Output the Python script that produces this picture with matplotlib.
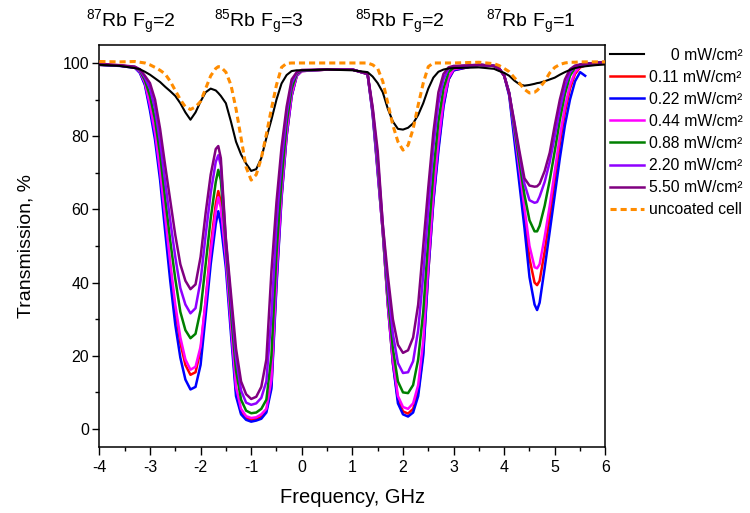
import numpy as np
import matplotlib
matplotlib.use("Agg")
import matplotlib.pyplot as plt
from matplotlib.ticker import MultipleLocator

plt.rcParams['font.family'] = ['Liberation Sans', 'DejaVu Sans']
plt.rcParams['mathtext.fontset'] = 'custom'
plt.rcParams['mathtext.rm'] = 'Liberation Sans'
plt.rcParams['mathtext.it'] = 'Liberation Sans:italic'
plt.rcParams['mathtext.bf'] = 'Liberation Sans:bold'
plt.rcParams['axes.unicode_minus'] = False

# ---------------- data ----------------
freq = [-4.0, -3.6, -3.3, -3.2, -3.1, -3.0, -2.9, -2.8, -2.7, -2.6,
        -2.5, -2.4, -2.3, -2.2, -2.1, -2.0, -1.9, -1.8, -1.7, -1.65,
        -1.6, -1.5, -1.4, -1.3, -1.2, -1.1, -1.0, -0.9, -0.8, -0.7,
        -0.6, -0.5, -0.4, -0.3, -0.2, -0.1, 0.0, 0.5, 1.0, 1.3,
        1.4, 1.5, 1.6, 1.7, 1.8, 1.9, 2.0, 2.1, 2.2, 2.3,
        2.4, 2.5, 2.6, 2.7, 2.8, 2.9, 3.0, 3.5, 3.8, 3.9,
        4.0, 4.1, 4.2, 4.3, 4.4, 4.5, 4.6, 4.65, 4.7, 4.8,
        4.9, 5.0, 5.1, 5.2, 5.3, 5.4, 5.5, 5.6, 5.8, 6.0]

t_0mw = [99.5, 99.2, 98.6, 98.3, 97.6, 96.8, 95.8, 94.8, 93.5, 92.3,
         91.0, 89.0, 86.5, 84.5, 86.5, 89.5, 92.0, 93.0, 92.5, 91.8,
         91.0, 89.0, 84.0, 78.5, 75.0, 72.5, 70.5, 71.0, 74.0, 79.5,
         84.5, 90.0, 94.4, 96.7, 97.8, 98.0, 98.0, 98.2, 98.0, 97.5,
         96.3, 94.5, 92.0, 87.5, 84.0, 82.0, 81.8, 82.3, 83.5, 85.8,
         89.0, 93.0, 96.0, 97.6, 98.2, 98.5, 98.6, 98.8, 98.4, 97.8,
         97.3, 96.5, 95.2, 94.2, 93.8, 94.0, 94.3, 94.5, 94.6, 95.0,
         95.5, 96.0, 96.8, 97.5, 98.1, 98.6, 98.9, 99.1, 99.4, 99.6]

t_011 = [99.5, 99.3, 98.8, 97.5, 94.3, 88.0, 80.5, 70.0, 57.0, 44.0,
         32.5, 23.5, 17.5, 14.8, 15.5, 21.5, 35.0, 50.0, 61.5, 65.0,
         62.0, 47.0, 28.0, 10.5, 4.5, 3.0, 2.5, 2.7, 3.3, 5.0,
         12.0, 40.0, 63.5, 80.0, 91.0, 96.5, 97.8, 98.2, 98.2, 97.0,
         86.5, 70.5, 54.0, 34.0, 18.0, 8.0, 4.8, 4.2, 5.5, 10.0,
         21.0, 43.0, 62.5, 77.0, 88.5, 95.5, 98.0, 99.5, 99.2, 98.5,
         96.5, 91.5, 80.5, 69.5, 58.0, 46.5, 40.0, 39.3, 40.5, 48.5,
         58.0, 68.0, 78.0, 86.5, 93.0, 97.0, 98.8, 99.3, 99.8, 100.3]

t_022 = [99.5, 99.2, 98.7, 97.3, 94.0, 87.0, 79.0, 68.0, 54.0, 40.5,
         28.5, 19.5, 13.5, 10.8, 11.5, 17.5, 31.0, 45.0, 56.0, 59.5,
         56.0, 44.0, 26.0, 9.0, 4.0, 2.5, 2.0, 2.3, 2.8, 4.5,
         11.0, 39.0, 63.0, 80.0, 91.0, 96.5, 97.8, 98.2, 98.2, 97.0,
         86.0, 70.0, 54.0, 34.0, 18.0, 7.0, 4.0, 3.4, 4.5, 9.0,
         20.0, 43.0, 62.0, 76.0, 88.0, 95.5, 98.0, 99.5, 99.2, 98.5,
         96.5, 91.0, 79.0, 67.0, 55.0, 41.5, 34.0, 32.5, 34.5, 44.0,
         54.0, 64.0, 74.0, 83.0, 90.0, 95.0, 97.5, 96.5, np.nan, np.nan]

t_044 = [99.8, 99.3, 98.8, 97.6, 94.6, 88.5, 81.0, 70.5, 58.0, 45.5,
         34.0, 25.0, 19.0, 16.2, 17.0, 22.5, 35.0, 48.5, 59.5, 63.3,
         60.5, 46.5, 28.5, 11.5, 5.5, 3.5, 3.0, 3.2, 4.0, 5.5,
         13.5, 42.0, 64.5, 81.0, 91.5, 96.6, 97.8, 98.2, 98.2, 97.0,
         86.5, 71.0, 54.0, 34.5, 19.0, 9.0, 6.0, 5.5, 7.0, 12.0,
         24.0, 45.0, 64.0, 78.5, 89.5, 96.0, 98.3, 99.5, 99.2, 98.5,
         96.6, 91.8, 81.5, 71.0, 60.5, 50.0, 44.2, 43.9, 45.0, 52.5,
         61.0, 70.5, 80.0, 88.0, 94.0, 97.5, 99.0, 99.5, 99.8, 100.3]

t_088 = [99.5, 99.3, 98.9, 97.9, 95.3, 91.0, 84.5, 75.0, 63.0, 51.5,
         41.0, 32.0, 27.0, 24.8, 26.0, 32.5, 45.0, 57.5, 67.5, 70.8,
         68.0, 50.0, 32.0, 16.0, 8.0, 5.0, 4.3, 4.5, 5.5, 8.0,
         20.0, 48.0, 68.0, 83.5, 93.0, 97.0, 97.9, 98.2, 98.2, 97.0,
         87.0, 72.5, 55.0, 36.5, 22.0, 13.0, 10.0, 9.8, 12.0, 19.0,
         32.0, 52.0, 70.0, 84.0, 93.0, 97.5, 98.7, 99.5, 99.2, 98.5,
         96.6, 91.8, 82.5, 73.0, 64.0, 57.0, 54.0, 54.0, 55.5, 61.0,
         68.0, 76.0, 84.5, 91.5, 96.5, 98.7, 99.5, 99.8, 100.0, 100.3]

t_220 = [99.5, 99.3, 98.9, 98.1, 96.0, 93.0, 87.5, 78.5, 67.5, 57.0,
         47.0, 38.5, 34.0, 31.6, 33.0, 40.5, 53.0, 64.5, 73.0, 74.8,
         72.0, 51.5, 35.0, 19.5, 10.5, 7.2, 6.6, 7.0, 8.5, 13.0,
         31.0, 56.0, 73.0, 86.0, 94.5, 97.3, 98.0, 98.2, 98.2, 97.0,
         87.5, 74.0, 56.0, 39.0, 26.0, 18.0, 15.3, 15.5, 18.5, 27.0,
         42.0, 60.0, 77.0, 89.0, 95.5, 98.5, 99.0, 99.5, 99.2, 98.5,
         96.6, 91.7, 83.5, 75.0, 67.0, 62.5, 61.8, 62.0, 63.5, 67.5,
         73.0, 80.0, 87.5, 93.5, 97.5, 99.0, 99.5, 99.8, 100.0, 100.3]

t_550 = [99.8, 99.4, 99.0, 98.3, 96.5, 94.5, 90.0, 82.0, 72.0, 62.5,
         53.0, 45.0, 40.5, 38.2, 39.5, 47.0, 59.0, 69.5, 76.5, 77.3,
         74.0, 52.0, 37.0, 22.0, 13.0, 9.5, 8.2, 8.8, 11.5, 19.0,
         43.0, 62.0, 77.0, 88.0, 95.5, 97.5, 98.1, 98.2, 98.2, 97.0,
         88.0, 76.0, 56.0, 42.0, 30.0, 23.0, 20.8, 21.5, 25.0, 34.0,
         50.0, 66.0, 81.0, 92.0, 97.0, 98.8, 99.2, 99.5, 99.2, 98.5,
         96.5, 91.5, 84.0, 76.0, 68.5, 66.5, 66.2, 66.3, 67.0, 70.5,
         75.5, 83.0, 90.0, 95.5, 98.3, 99.3, 99.6, 99.8, 100.0, 100.3]

t_uncoated = [100.4, 100.3, 100.4, 100.2, 100.0, 99.5, 98.8, 98.0, 97.0, 95.0,
              92.5, 90.0, 88.0, 87.3, 88.0, 89.5, 93.0, 96.5, 98.5, 99.0,
              98.9, 97.5, 94.0, 87.5, 79.5, 71.5, 68.0, 69.5, 74.0, 80.5,
              87.5, 94.0, 98.8, 99.9, 100.0, 100.0, 100.0, 100.0, 100.0, 100.0,
              99.5, 98.5, 95.0, 89.0, 83.0, 78.5, 76.2, 77.5, 82.0, 88.5,
              94.5, 99.0, 100.0, 100.0, 100.0, 100.0, 100.0, 100.2, 99.8, 99.3,
              98.5, 97.6, 96.0, 94.5, 92.8, 91.8, 92.0, 92.5, 93.2, 95.0,
              97.3, 98.8, 99.6, 100.0, 100.2, 100.2, 100.3, 100.3, 100.3, 100.3]

labels = ["     0 mW/cm\u00b2", "0.11 mW/cm\u00b2", "0.22 mW/cm\u00b2", "0.44 mW/cm\u00b2",
          "0.88 mW/cm\u00b2", "2.20 mW/cm\u00b2", "5.50 mW/cm\u00b2", "uncoated cell"]
series = [t_0mw, t_011, t_022, t_044, t_088, t_220, t_550, t_uncoated]
colors = ['black', '#FF0000', '#0000FF', '#FF00FF', '#008000', '#8F00FF', '#800080', '#FF8C00']

peak_labels = [r"$^{87}$Rb F$_{\mathrm{g}}$=2", r"$^{85}$Rb F$_{\mathrm{g}}$=3",
               r"$^{85}$Rb F$_{\mathrm{g}}$=2", r"$^{87}$Rb F$_{\mathrm{g}}$=1"]
peak_label_x = [0.175, 0.345, 0.533, 0.708]

# ---------------- figure ----------------
fig = plt.figure(figsize=(7.5, 5.13), dpi=100)
ax = fig.add_axes([0.1325, 0.1281, 0.6747, 0.7848])

x = np.array(freq)
for i, (y, lab, c) in enumerate(zip(series, labels, colors)):
    y = np.array(y, dtype=float)
    if lab == "uncoated cell":
        ax.plot(x, y, color=c, lw=2.2, ls=(0, (2.0, 1.3)), label=lab, zorder=5)
    elif i == 0:
        ax.plot(x, y, color=c, lw=1.5, label=lab, zorder=4)
    else:
        ax.plot(x, y, color=c, lw=1.8, label=lab, zorder=3,
                solid_joinstyle='round')

ax.set_xlim(-4, 6)
ax.set_ylim(-5, 105)
ax.xaxis.set_major_locator(MultipleLocator(1))
ax.xaxis.set_minor_locator(MultipleLocator(0.5))
ax.yaxis.set_major_locator(MultipleLocator(20))
ax.yaxis.set_minor_locator(MultipleLocator(10))
ax.set_yticks([0, 20, 40, 60, 80, 100])
ax.tick_params(which='major', direction='out', length=5.4, width=1.0,
               labelsize=11.5, top=False, right=False)
ax.tick_params(which='minor', direction='out', length=3.1, width=1.0,
               top=False, right=False)
ax.tick_params(axis='x', which='major', pad=4)
ax.tick_params(axis='y', which='major', pad=2)
for s in ax.spines.values():
    s.set_linewidth(1.1)

ax.set_xlabel("Frequency, GHz", fontsize=14.5, labelpad=9)
ax.set_ylabel("Transmission, %", fontsize=14, labelpad=20)

for lab, xp in zip(peak_labels, peak_label_x):
    fig.text(xp, 0.957, lab, ha='center', va='center', fontsize=14)

fig.legend(loc='upper left', bbox_to_anchor=(0.8133, 0.907), frameon=False,
           fontsize=11.3, handlelength=2.15, handletextpad=0.35,
           labelspacing=0.45, borderpad=0, borderaxespad=0)

fig.savefig("out.png", dpi=100)
